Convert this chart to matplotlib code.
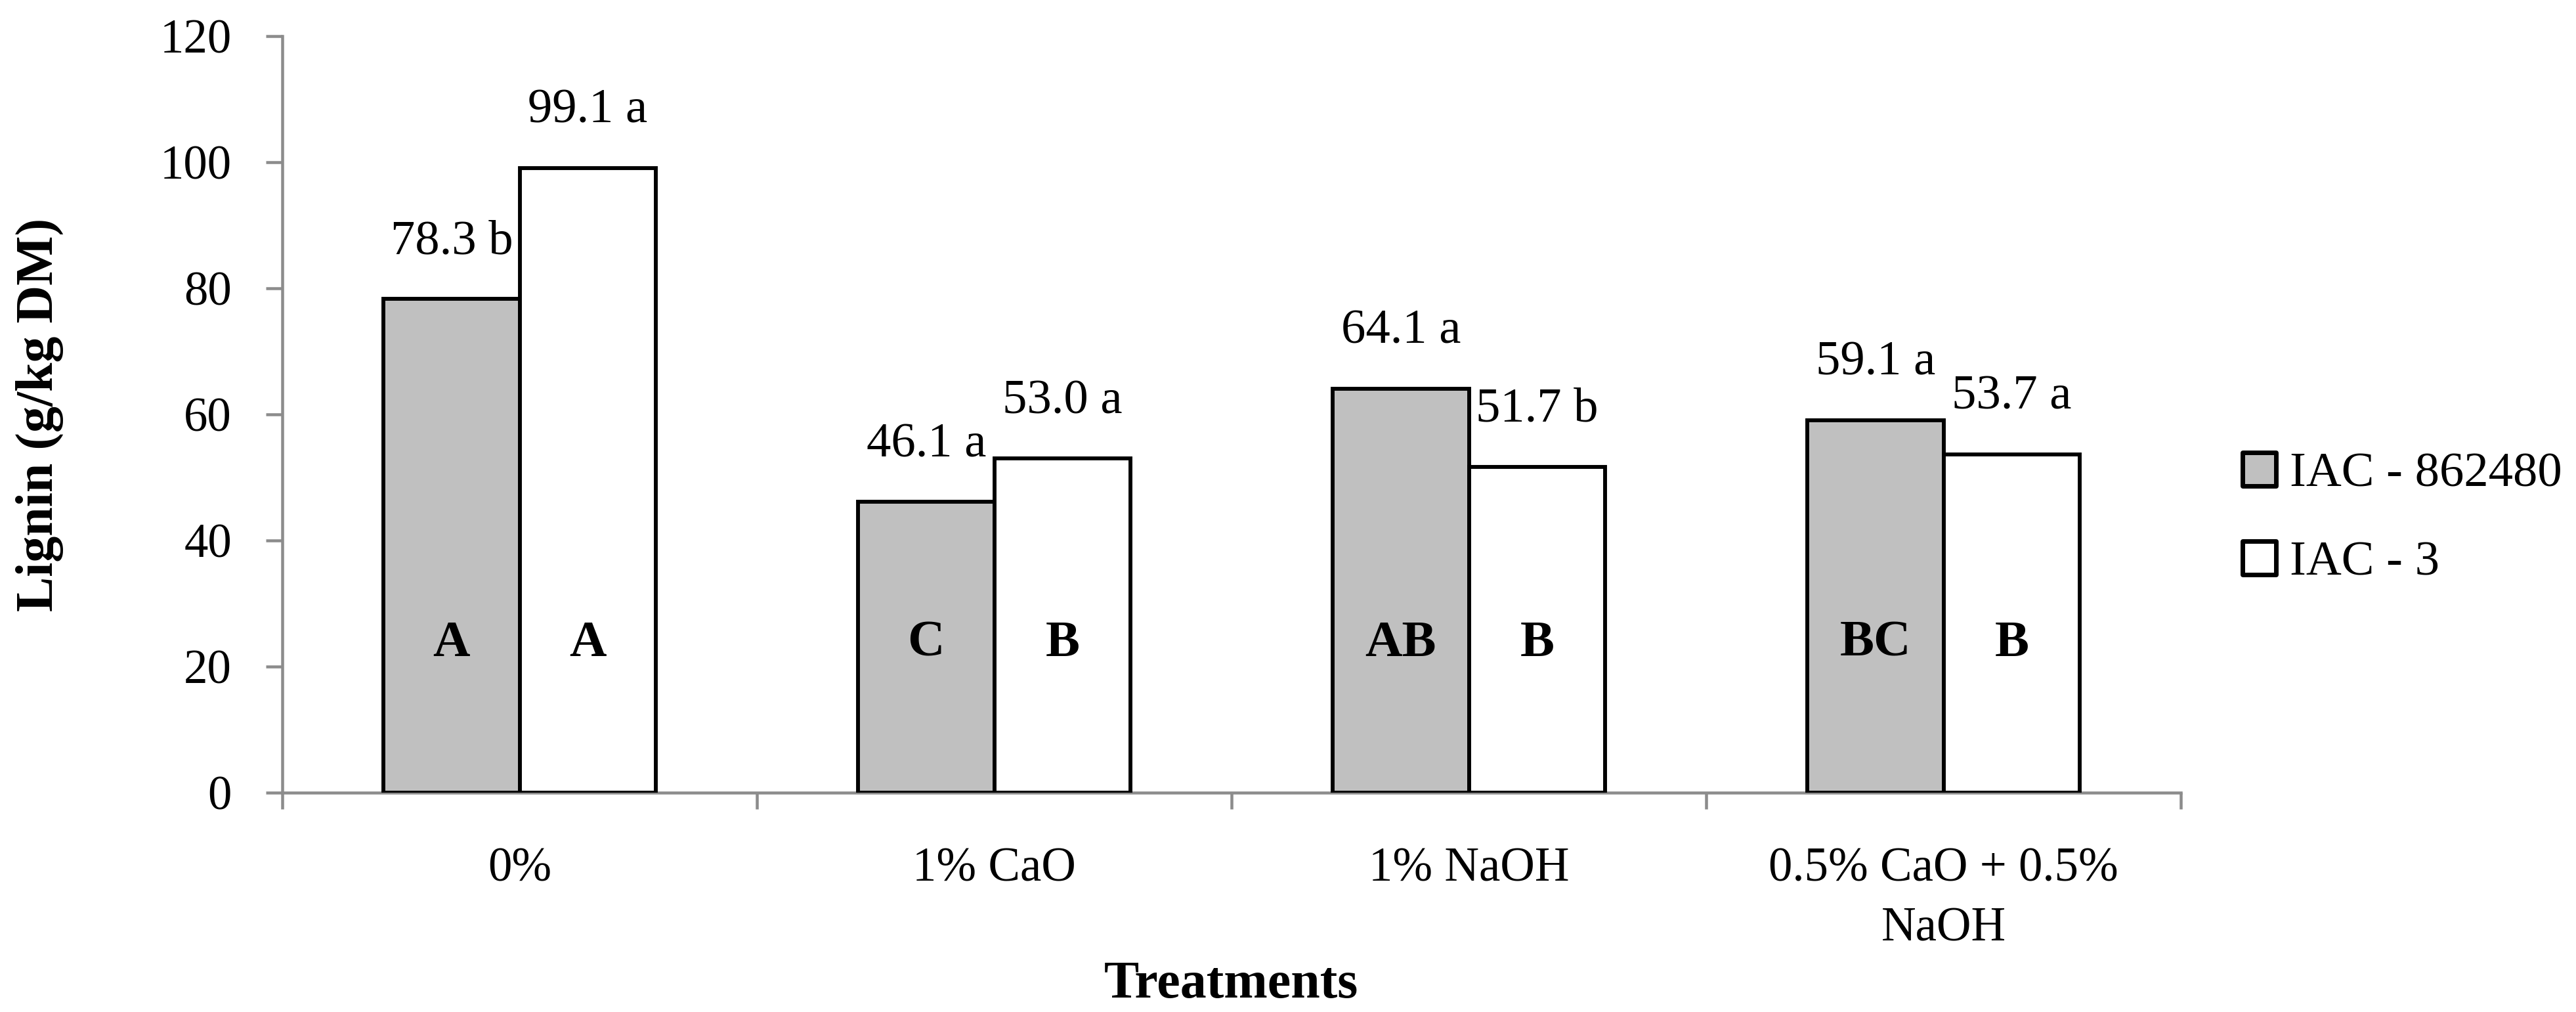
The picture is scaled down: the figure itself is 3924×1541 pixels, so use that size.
import numpy as np
import matplotlib.pyplot as plt
from matplotlib.ticker import FixedLocator

# treatments and lignin values (g/kg DM)
treatments = ['0%', '1% CaO', '1% NaOH', '0.5% CaO + 0.5%\nNaOH']
iac_862480 = [78.3, 46.1, 64.1, 59.1]
iac_3 = [99.1, 53.0, 51.7, 53.7]

# lowercase letters: compare cultivars within treatment
lower_862480 = ['b', 'a', 'a', 'a']
lower_3 = ['a', 'a', 'b', 'a']
# uppercase letters: compare treatments within cultivar
upper_862480 = ['A', 'C', 'AB', 'BC']
upper_3 = ['A', 'B', 'B', 'B']

plt.rcParams['font.family'] = ['Liberation Serif', 'DejaVu Serif']

axis_grey = '#8c8c8c'

fig = plt.figure(figsize=(15.696, 6.164), dpi=250)
ax = fig.add_axes([0.1096, 0.2167, 0.737, 0.7476])

x = np.arange(len(treatments))
w = 0.287
b1 = ax.bar(x - w / 2, iac_862480, w, color='#c0c0c0', edgecolor='black',
            linewidth=1.7, label='IAC - 862480', zorder=3)
b2 = ax.bar(x + w / 2, iac_3, w, color='white', edgecolor='black',
            linewidth=1.7, label='IAC - 3', zorder=3)

# value + letter on top of each bar
for bars, vals, lows in [(b1, iac_862480, lower_862480), (b2, iac_3, lower_3)]:
    for r, v, l in zip(bars, vals, lows):
        ax.annotate('{:.1f} {}'.format(v, l),
                    (r.get_x() + r.get_width() / 2, v),
                    xytext=(0, 25), textcoords='offset points',
                    ha='center', va='center', fontsize=21.5)

# uppercase letters inside bars
for bars, ups in [(b1, upper_862480), (b2, upper_3)]:
    for r, u in zip(bars, ups):
        ax.text(r.get_x() + r.get_width() / 2, 23.6, u, ha='center',
                va='center', fontsize=22.5, fontweight='bold', zorder=4)

ax.set_xlim(-0.5, len(treatments) - 0.5)
ax.set_ylim(0, 120)
ax.set_yticks(np.arange(0, 121, 20))

# category boundaries as major ticks, names on minor ticks
ax.xaxis.set_major_locator(FixedLocator(np.arange(-0.5, len(treatments), 1)))
ax.xaxis.set_minor_locator(FixedLocator(x))
ax.set_xticklabels([], minor=False)
ax.set_xticklabels(treatments, minor=True, fontsize=21, linespacing=1.45)
ax.tick_params(axis='x', which='major', direction='out', length=7.2,
               width=1.3, color=axis_grey)
ax.tick_params(axis='x', which='minor', length=0, pad=24)
ax.tick_params(axis='y', direction='out', length=7.2, width=1.3,
               color=axis_grey, labelsize=21, pad=15)

for s in ['top', 'right']:
    ax.spines[s].set_visible(False)
for s in ['left', 'bottom']:
    ax.spines[s].set_color(axis_grey)
    ax.spines[s].set_linewidth(1.3)

fig.text(0.0153, 0.5905, 'Lignin (g/kg DM)', rotation=90, ha='center',
         va='center', fontsize=23, fontweight='bold')
fig.text(0.478, 0.027, 'Treatments', ha='center', va='center',
         fontsize=23, fontweight='bold')

leg = fig.legend(loc='center left', bbox_to_anchor=(0.8705, 0.4873),
                 frameon=False, fontsize=21.5, borderpad=0, borderaxespad=0,
                 handlelength=0.68, handleheight=0.68, handletextpad=0.28,
                 labelspacing=0.9)
for h in leg.legend_handles:
    h.set_linewidth(2.0)
    h.set_joinstyle('round')

fig.savefig('out.png', dpi=250)
